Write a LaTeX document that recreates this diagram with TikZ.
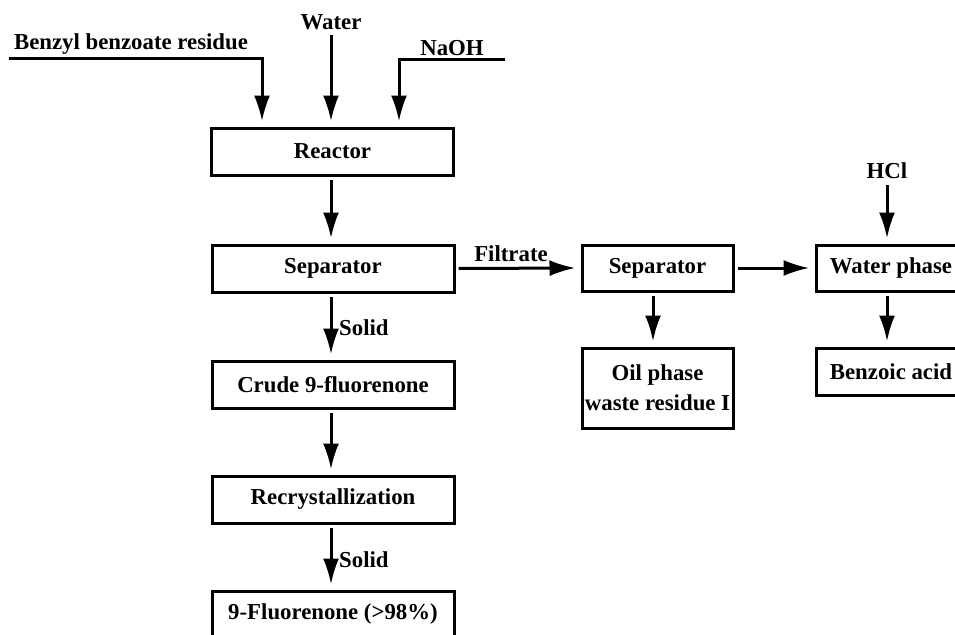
\documentclass[tikz,border=0pt]{standalone}
\usepackage{fontspec}
\setmainfont{Liberation Serif}
\usetikzlibrary{arrows.meta,calc}
\begin{document}
\begin{tikzpicture}[x=1pt,y=-1pt,
  every node/.style={font=\fontsize{22.8}{26}\selectfont\bfseries, inner sep=0pt},
  box/.style={draw, line width=3pt, minimum width=242pt, minimum height=47pt},
  arr/.style={line width=3pt, -{Latex[length=26pt,width=16pt]}, shorten >=5pt, shorten <=3pt},
  lbl/.style={anchor=west}
]
\useasboundingbox (0,0) rectangle (955,634);
% main column
\node[box] (reactor) at (332.5,151.5) {Reactor};
\node[box] (sep1) at (333,268.5) {Separator};
\node[box] (crude) at (333,384.5) {Crude 9-fluorenone};
\node[box] (recr) at (333,499.5) {Recrystallization};
\node[box] (final) at (333,614.5) {9-Fluorenone (>98\%)};
% right part
\node[box, minimum width=151pt, minimum height=46pt] (sep2) at (657.5,268) {Separator};
\node[box, minimum width=150pt, minimum height=46pt] (wp) at (891,268) {Water phase};
\node[box, minimum width=151pt, minimum height=80pt, align=center] (oil) at (657.5,388) {Oil phase\\[4pt]waste residue I};
\node[box, minimum width=150pt, minimum height=47pt] (ba) at (891,371.5) {Benzoic acid};
% feed labels
\node (bzl) at (131,44) {Benzyl benzoate residue};
\node (water) at (331,22) {Water};
\node (naoh) at (452,48) {NaOH};
\node (hcl) at (887,171) {HCl};
% feed lines
\coordinate (bzs) at (9,59);
\coordinate (bzc) at (262,59);
\coordinate (nas) at (505,60);
\coordinate (nac) at (399,60);
\draw[arr, shorten <=0pt] (bzs) -- (bzc) -- (bzc |- reactor.north);
\draw[arr, shorten <=0pt] ([yshift=-5pt]water.south) -- (water.south |- reactor.north);
\draw[arr, shorten <=0pt] (nas) -- (nac) -- (nac |- reactor.north);
\draw[arr, shorten <=0pt] ([yshift=-6pt]hcl.south) -- (hcl.south |- wp.north);
% main flow
\draw[arr] (reactor.south -| water) -- (sep1.north -| water);
\draw[arr] (sep1.south -| water) -- (crude.north -| water);
\draw[arr] (crude.south -| water) -- (recr.north -| water);
\draw[arr] (recr.south -| water) -- (final.north -| water);
\node[lbl] (solid1) at (339,328) {Solid};
\node[lbl] (solid2) at (339,560) {Solid};
% side flow
\draw[arr] (sep1.east) -- (sep2.west);
\node (filt) at (511,254) {Filtrate};
\draw[arr] (sep2.east) -- (wp.west);
\coordinate (sx) at (653,0);
\draw[arr] (sep2.south -| sx) -- (oil.north -| sx);
\draw[arr] (wp.south -| hcl) -- (ba.north -| hcl);
\end{tikzpicture}
\end{document}
